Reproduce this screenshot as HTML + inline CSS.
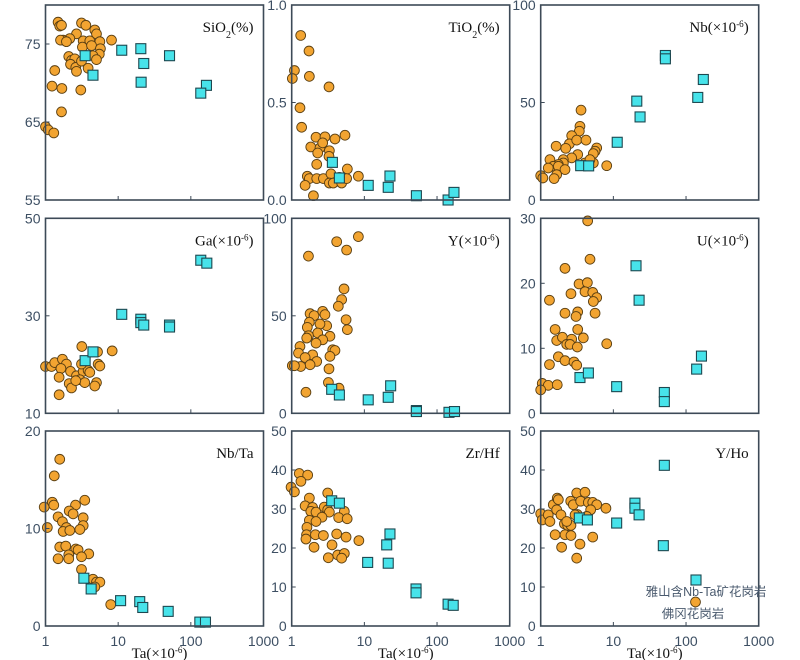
<!DOCTYPE html>
<html><head><meta charset="utf-8"><style>
html,body{margin:0;padding:0;background:#fff;}
svg{display:block;}
.tk{font-family:"Liberation Sans",sans-serif;font-size:14px;fill:#3d4f63;}
.pl{font-family:"Liberation Serif",serif;font-size:15px;fill:#111;}
.lg{font-family:"Liberation Sans","Noto Sans CJK SC",sans-serif;font-size:12.5px;fill:#4a5a6e;}
</style></head><body>
<svg id="chart" width="800" height="660" viewBox="0 0 800 660" xmlns="http://www.w3.org/2000/svg"></svg>
<script>
// ---- data: orange = Fogang granite, cyan = Yashan Nb-Ta granite ----
const sio2TaO=[1.49,1.57,1.66,3.13,3.59,4.77,5.03,2.67,2.16,1.75,1.61,1.94,3.3,4.07,5.6,8.1,3.22,4.3,5.7,5.5,4.5,2.09,2.28,2.53,2.21,2.61,2.67,3.13,3.86,5.03,1.34,1.23,1.68,3.06,1.66,1.0,1.09,1.3];
const sio2O=[77.8,77.3,77.4,77.7,77.4,76.8,76.3,76.3,75.7,75.5,75.5,75.3,75.4,75.4,75.3,75.5,74.6,74.8,74.4,73.7,73.5,73.4,72.9,73.1,72.4,72.0,71.5,72.8,71.9,73.0,71.6,69.6,69.3,69.1,66.3,64.4,64.0,63.6];
const sio2TaS=[3.51,4.5,11.2,20.5,22.5,20.7,50.9,164,137];
const sio2S=[73.5,71.0,74.2,74.4,72.5,70.1,73.5,69.7,68.7];

const tio2TaO=[1.33,1.73,1.09,1.02,1.75,3.26,1.3,1.37,2.16,2.87,3.94,5.41,1.83,2.45,2.67,3.3,3.26,2.28,2.21,1.64,1.75,1.53,1.99,2.21,2.73,3.47,3.3,3.73,4.87,5.83,5.7,8.27,4.53];
const tio2O=[0.844,0.764,0.664,0.623,0.634,0.58,0.473,0.373,0.322,0.324,0.313,0.332,0.272,0.267,0.293,0.253,0.224,0.241,0.183,0.122,0.11,0.075,0.022,0.11,0.11,0.134,0.087,0.087,0.087,0.159,0.11,0.122,0.116];
const tio2TaS=[3.63,4.53,11.3,22.5,21.3,52,142,171];
const tio2S=[0.193,0.113,0.075,0.123,0.065,0.022,0.0,0.039];

const nbTaO=[3.59,3.47,3.4,2.67,2.48,3.13,4.2,1.63,2.21,5.9,5.6,5.3,3.23,2.67,2.05,1.34,2.05,1.75,1.49,1.27,1.75,4.07,5.3,2.16,1.66,1.53,1.0,1.07,8.1,4.76];
const nbO=[46.1,37.8,35.3,33.0,28.8,30.7,30.7,27.6,26.5,26.7,25.0,23.8,23.3,21.6,20.7,20.7,19.0,18.2,17.3,16.4,17.3,19.0,19.0,15.6,13.0,11.0,12.5,11.3,17.6,20.7];
const nbTaS=[3.55,4.57,11.3,21,23.3,52,52,173,145];
const nbS=[17.6,17.5,29.6,50.7,42.6,74.1,72.4,61.8,52.6];

const gaTaO=[3.16,5.2,8.27,1.0,1.21,1.34,1.71,1.94,1.63,2.21,1.54,2.67,3.3,3.86,5.3,5.6,4.07,2.97,2.12,2.28,3.47,5.03,4.77,1.54,3.13,2.61];
const gaO=[23.7,22.6,22.8,19.6,19.6,20.4,21.1,20.1,19.2,18.6,17.4,17.7,18.6,18.8,20.1,19.7,18.4,16.9,16.1,15.2,16.3,16.3,15.6,13.8,20.1,16.7];
const gaTaS=[3.51,4.5,11.2,20.5,20.5,22.5,50.9,50.9,137,166];
const gaS=[20.8,22.6,30.3,29.3,28.6,28.1,28.1,27.7,41.4,40.8];

const yTaO=[8.27,4.16,5.7,1.7,5.25,4.87,4.38,5.6,5.83,1.79,2.03,2.67,2.87,3.03,2.45,1.75,1.64,2.28,1.7,1.61,3.36,2.67,2.16,1.3,3.67,3.94,1.24,1.94,3.36,1.53,2.21,1.79,1.33,1.02,1.09,3.26,3.2,4.48,1.57];
const yO=[90.6,88.0,83.7,80.6,63.8,58.3,54.9,48.0,42.9,51.1,50.1,52.3,50.6,44.9,45.8,46.7,44.1,41.2,39.8,38.6,39.5,37.7,36.0,34.3,32.6,32.2,30.9,30.0,29.2,28.6,26.6,24.9,24.0,24.4,24.4,22.8,15.8,12.9,10.8];
const yTaS=[3.55,4.53,11.3,23,21.3,52,52,146,174];
const yS=[12.3,9.4,6.9,14.1,8.2,1.4,0.9,0.5,0.9];

const uTaO=[4.43,4.77,2.16,3.37,4.39,4.07,5.2,5.9,5.3,1.32,2.61,2.16,3.23,3.06,5.6,1.58,3.23,3.86,1.66,1.99,2.67,2.28,2.53,3.19,8.1,1.75,2.16,2.87,3.13,1.32,1.05,1.27,1.69,1.0];
const uO=[29.6,23.7,22.3,19.9,20.1,18.7,18.6,17.8,17.2,17.4,18.4,15.4,15.6,14.9,15.4,12.9,12.9,11.6,11.2,11.7,11.4,10.6,10.6,10.2,10.7,8.7,8.1,7.9,7.4,7.5,4.6,4.3,4.4,3.6];
const uTaS=[3.47,4.53,11.1,20.5,22.6,50.3,50.3,140,163];
const uS=[5.5,6.2,4.1,22.7,17.4,3.2,1.8,6.8,8.8];

const nbtaTaO=[1.57,1.32,0.96,1.24,1.3,3.47,2.59,2.12,2.4,1.49,3.3,1.71,1.94,1.06,3.3,2.97,1.75,2.16,1.57,1.9,2.61,2.81,2.09,3.94,1.49,2.09,3.13,3.13,4.5,5.03,5.6,4.77,7.9];
const nbtaO=[17.1,15.4,12.2,12.7,12.4,12.9,12.4,11.8,11.5,11.2,11.1,10.7,10.1,10.1,10.3,9.9,9.7,9.8,8.1,8.2,7.9,7.8,7.3,7.4,6.9,6.9,7.1,5.8,4.8,4.5,4.5,4.0,2.2];
const nbtaTaS=[3.37,4.25,10.8,19.8,21.8,48.8,133,159];
const nbtaS=[4.9,3.8,2.6,2.5,1.9,1.5,0.4,0.4];

const zrhfTaO=[1.27,1.66,1.34,0.98,1.09,3.13,1.75,1.53,1.94,1.83,2.16,2.81,3.13,3.3,5.3,2.61,4.43,5.8,1.75,2.16,1.62,1.6,2.12,2.73,4.16,5.6,8.4,1.57,3.59,2.03,4.3,5.3,3.19,4.87];
const zrhfO=[39.1,38.7,37.1,35.6,34.4,34.1,32.8,30.8,30.4,29.4,29.2,30.5,29.8,29.2,29.4,27.9,27.8,27.5,27.1,26.8,25.3,23.4,23.4,23.2,23.6,22.8,21.9,22.3,20.8,20.2,18.2,18.6,17.5,17.4];
const zrhfTaS=[3.55,4.53,11.1,22.5,20.3,21.3,51.4,51.4,142,167];
const zrhfS=[32.1,31.5,16.3,23.6,20.8,16.1,9.5,8.5,5.6,5.3];

const yhoTaO=[1.0,1.05,1.27,1.34,1.49,1.69,1.75,1.66,1.9,2.12,2.35,2.61,2.28,1.58,2.16,2.61,1.94,3.13,4.07,2.59,2.81,3.55,4.52,5.2,5.9,4.87,3.19,2.97,7.9,5.2,3.47,3.13,4.3];
const yhoO=[28.8,27.2,28.5,26.8,31.1,32.8,32.4,29.8,28.5,26.2,25.8,25.8,26.8,23.4,23.4,23.2,20.2,34.1,34.3,32.0,31.1,32.0,31.7,31.7,31.1,29.8,28.6,28.5,30.2,22.8,21.0,17.4,28.1];
const yhoTaS=[3.4,4.39,11.1,19.8,19.8,22.6,50.3,48.7];
const yhoS=[27.7,27.2,26.4,31.5,30.2,28.5,41.2,20.6];

const xTicks=[1,10,100,1000];
const sio2Ticks=[55,65,75], tio2Ticks=[0,0.5,1], nbTicks=[0,50,100], gaTicks=[10,30,50], yTicks=[0,50,100], uTicks=[0,10,20,30], nbtaTicks=[0,10,20], zrhfTicks=[0,10,20,30,40,50], yhoTicks=[0,10,20,30,40,50];
const sio2Labels=["55","65","75"], tio2Labels=["0.0","0.5","1.0"];

const NS="http://www.w3.org/2000/svg";
const svg=document.getElementById('chart');
function mk(tag,attrs,parent){const e=document.createElementNS(NS,tag);for(const k in attrs)e.setAttribute(k,attrs[k]);(parent||svg).appendChild(e);return e;}

const colL=[45.5,291.7,540.7], rowT=[5,218.3,431], PW=218, PH=195;
const panels=[
 {key:'sio2',title:'SiO<tspan baseline-shift="sub" font-size="10">2</tspan>(%)',min:55,max:80,ticks:sio2Ticks,labels:sio2Labels,xo:sio2TaO,yo:sio2O,xs:sio2TaS,ys:sio2S},
 {key:'tio2',title:'TiO<tspan baseline-shift="sub" font-size="10">2</tspan>(%)',min:0,max:1,ticks:tio2Ticks,labels:tio2Labels,xo:tio2TaO,yo:tio2O,xs:tio2TaS,ys:tio2S},
 {key:'nb',title:'Nb(×10<tspan baseline-shift="super" font-size="9">-6</tspan>)',min:0,max:100,ticks:nbTicks,xo:nbTaO,yo:nbO,xs:nbTaS,ys:nbS},
 {key:'ga',title:'Ga(×10<tspan baseline-shift="super" font-size="9">-6</tspan>)',min:10,max:50,ticks:gaTicks,xo:gaTaO,yo:gaO,xs:gaTaS,ys:gaS},
 {key:'y',title:'Y(×10<tspan baseline-shift="super" font-size="9">-6</tspan>)',min:0,max:100,ticks:yTicks,xo:yTaO,yo:yO,xs:yTaS,ys:yS},
 {key:'u',title:'U(×10<tspan baseline-shift="super" font-size="9">-6</tspan>)',min:0,max:30,ticks:uTicks,xo:uTaO,yo:uO,xs:uTaS,ys:uS},
 {key:'nbta',title:'Nb/Ta',min:0,max:20,ticks:nbtaTicks,xo:nbtaTaO,yo:nbtaO,xs:nbtaTaS,ys:nbtaS},
 {key:'zrhf',title:'Zr/Hf',min:0,max:50,ticks:zrhfTicks,xo:zrhfTaO,yo:zrhfO,xs:zrhfTaS,ys:zrhfS},
 {key:'yho',title:'Y/Ho',min:0,max:50,ticks:yhoTicks,xo:yhoTaO,yo:yhoO,xs:yhoTaS,ys:yhoS}
];

panels.forEach((p,i)=>{
  const L=colL[i%3], T=rowT[Math.floor(i/3)], B=T+PH, R=L+PW;
  const xs=v=>L+PW*Math.log10(v)/3;
  const ys=v=>B-PH*(v-p.min)/(p.max-p.min);
  const g=mk('g',{});
  
  
  // marks
  p.xo.forEach((t,j)=>{
    const c=mk('circle',{cx:xs(t),cy:ys(p.yo[j]),r:4.9,fill:'#f2a431',stroke:'#5a3f12','stroke-width':0.9},g);
    
    
  });
  p.xs.forEach((t,j)=>{
    const s=mk('rect',{x:xs(t)-5,y:ys(p.ys[j])-5,width:10,height:10,fill:'#47e3ea',stroke:'#1d4850','stroke-width':1.1},g);
    
    
  });
  // frame
  const fr=mk('rect',{x:L,y:T,width:PW,height:PH,fill:'none',stroke:'#3d4a57','stroke-width':1.6},g);
  
  
  // x minor ticks
  [10,100].forEach(v=>{mk('line',{x1:xs(v),x2:xs(v),y1:B,y2:B-4,stroke:'#3d4a57','stroke-width':1},g);});
  // y ticks
  p.ticks.forEach((v,k)=>{
    mk('line',{x1:L,x2:L+4,y1:ys(v),y2:ys(v),stroke:'#3d4a57','stroke-width':1},g);
    const tx=mk('text',{x:L-5,y:ys(v)+5,'text-anchor':'end',class:'tk'},g);
    tx.textContent=p.labels?p.labels[k]:String(v);
    
    
  });
  // title
  const tt=mk('text',{x:R-10,y:T+27,'text-anchor':'end',class:'pl'},g);
  tt.innerHTML=p.title;
  
  
  // bottom row x labels
  if(i>=6){
    xTicks.forEach(v=>{
      const tx=mk('text',{x:xs(v),y:B+20,'text-anchor':'middle',class:'tk'},g);
      tx.textContent=String(v);
      
      
    });
    const xt=mk('text',{x:L+PW/2+5,y:B+32,'text-anchor':'middle',class:'pl'},g);
    xt.innerHTML='Ta(×10<tspan baseline-shift="super" font-size="9">-6</tspan>)';
    
    
  }
});
</script>
<svg width="0" height="0" style="position:absolute"></svg>
<script>
const lg=mk('g',{});


const ls=mk('rect',{x:691,y:575,width:10,height:10,fill:'#47e3ea',stroke:'#1d4850','stroke-width':1.1},lg);


const lt1=mk('text',{x:706,y:596,'text-anchor':'middle',class:'lg'},lg);
lt1.textContent='雅山含Nb-Ta矿花岗岩';


const lc=mk('circle',{cx:695.5,cy:602,r:4.9,fill:'#f2a431',stroke:'#5a3f12','stroke-width':0.9},lg);


const lt2=mk('text',{x:693,y:618,'text-anchor':'middle',class:'lg'},lg);
lt2.textContent='佛冈花岗岩';


</script>
</body></html>
